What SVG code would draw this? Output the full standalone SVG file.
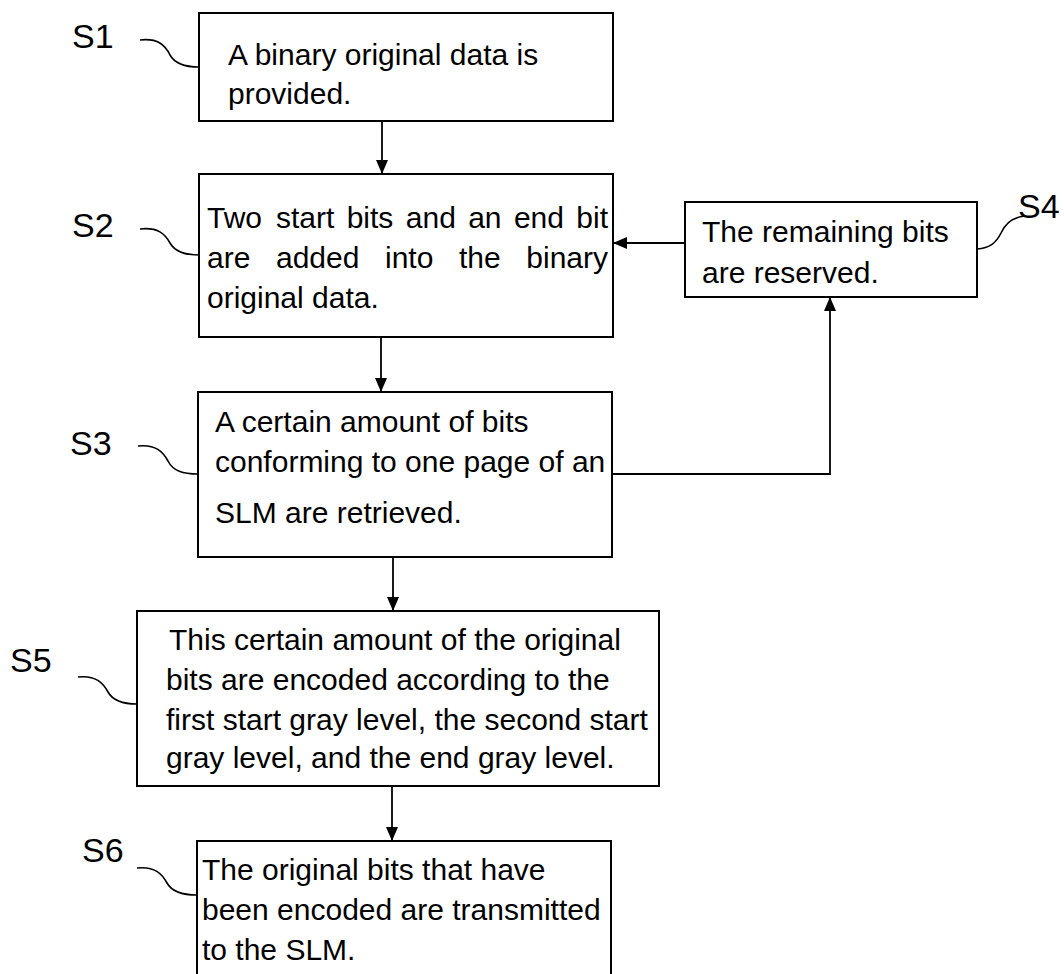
<svg xmlns="http://www.w3.org/2000/svg" width="1064" height="974" viewBox="0 0 1064 974">
<style>
.box{fill:#fff;stroke:#000;stroke-width:2}
.t{font-family:"Liberation Sans",Arial,sans-serif;font-size:30px;fill:#000}
.lbl{font-family:"Liberation Sans",Arial,sans-serif;font-size:34px;fill:#000}
.sq{fill:none;stroke:#000;stroke-width:1.6}
.c{fill:none;stroke:#000;stroke-width:1.8}
</style>
<defs>
<marker id="ah" markerUnits="userSpaceOnUse" markerWidth="14" markerHeight="12" refX="14" refY="6" orient="auto">
<path d="M0,0 L14,6 L0,12 z" fill="#000"/>
</marker>
</defs>
<rect width="1064" height="974" fill="#fff"/>
<g id="connectors">
<line class="c" x1="382" y1="121" x2="382" y2="174" marker-end="url(#ah)"/>
<line class="c" x1="381" y1="337" x2="381" y2="392" marker-end="url(#ah)"/>
<line class="c" x1="393" y1="557" x2="393" y2="611" marker-end="url(#ah)"/>
<line class="c" x1="392" y1="786" x2="392" y2="841" marker-end="url(#ah)"/>
<line class="c" x1="685" y1="243" x2="613" y2="243" marker-end="url(#ah)"/>
<polyline class="c" points="612,474 830,474 830,297" marker-end="url(#ah)"/>
</g>
<g id="S1">
<rect class="box" x="199" y="13" width="414" height="108"/>
<text class="t" x="228" y="65">A binary original data is</text>
<text class="t" x="228" y="104">provided.</text>
<text class="lbl" x="72" y="48">S1</text>
<path class="sq" d="M140,40 C158,38 165,45 170,55 C175,64 185,67 199,67"/>
</g>
<g id="S2">
<rect class="box" x="199" y="174" width="414" height="163"/>
<text class="t" y="228"><tspan x="207">Two</tspan><tspan x="276">start</tspan><tspan x="346.7">bits</tspan><tspan x="405.8">and</tspan><tspan x="468.2">an</tspan><tspan x="513.9">end</tspan><tspan x="576.3">bit</tspan></text>
<text class="t" y="268"><tspan x="207">are</tspan><tspan x="276">added</tspan><tspan x="385">into</tspan><tspan x="459">the</tspan><tspan x="526.3">binary</tspan></text>
<text class="t" x="207" y="308">original data.</text>
<text class="lbl" x="72" y="237">S2</text>
<path class="sq" d="M140,229 C158,227 165,234 170,243 C175,252 185,255 199,255"/>
</g>
<g id="S4">
<rect class="box" x="685" y="202" width="292" height="95"/>
<text class="t" x="702" y="242">The remaining bits</text>
<text class="t" x="702" y="283">are reserved.</text>
<text class="lbl" x="1018" y="218">S4</text>
<path class="sq" d="M977,249 C990,248 996,243 1001,233 C1006,222 1014,217 1025,216"/>
</g>
<g id="S3">
<rect class="box" x="198" y="392" width="414" height="165"/>
<text class="t" x="215" y="432">A certain amount of bits</text>
<text class="t" x="215" y="472">conforming to one page of an</text>
<text class="t" x="215" y="523">SLM are retrieved.</text>
<text class="lbl" x="70" y="455">S3</text>
<path class="sq" d="M138,446 C156,444 163,452 168,461 C173,471 183,474 198,474"/>
</g>
<g id="S5">
<rect class="box" x="137" y="611" width="522" height="175"/>
<text class="t" x="169" y="650">This certain amount of the original</text>
<text class="t" x="166" y="690">bits are encoded according to the</text>
<text class="t" x="166" y="730">first start gray level, the second start</text>
<text class="t" x="166" y="768">gray level, and the end gray level.</text>
<text class="lbl" x="10" y="672">S5</text>
<path class="sq" d="M78,677 C96,675 103,683 108,692 C113,701 123,704 137,704"/>
</g>
<g id="S6">
<rect class="box" x="197" y="841" width="414" height="140"/>
<text class="t" x="202" y="880">The original bits that have</text>
<text class="t" x="202" y="920">been encoded are transmitted</text>
<text class="t" x="202" y="960">to the SLM.</text>
<text class="lbl" x="82" y="862">S6</text>
<path class="sq" d="M137,868 C155,866 162,874 167,883 C172,892 182,895 197,895"/>
</g>
</svg>
